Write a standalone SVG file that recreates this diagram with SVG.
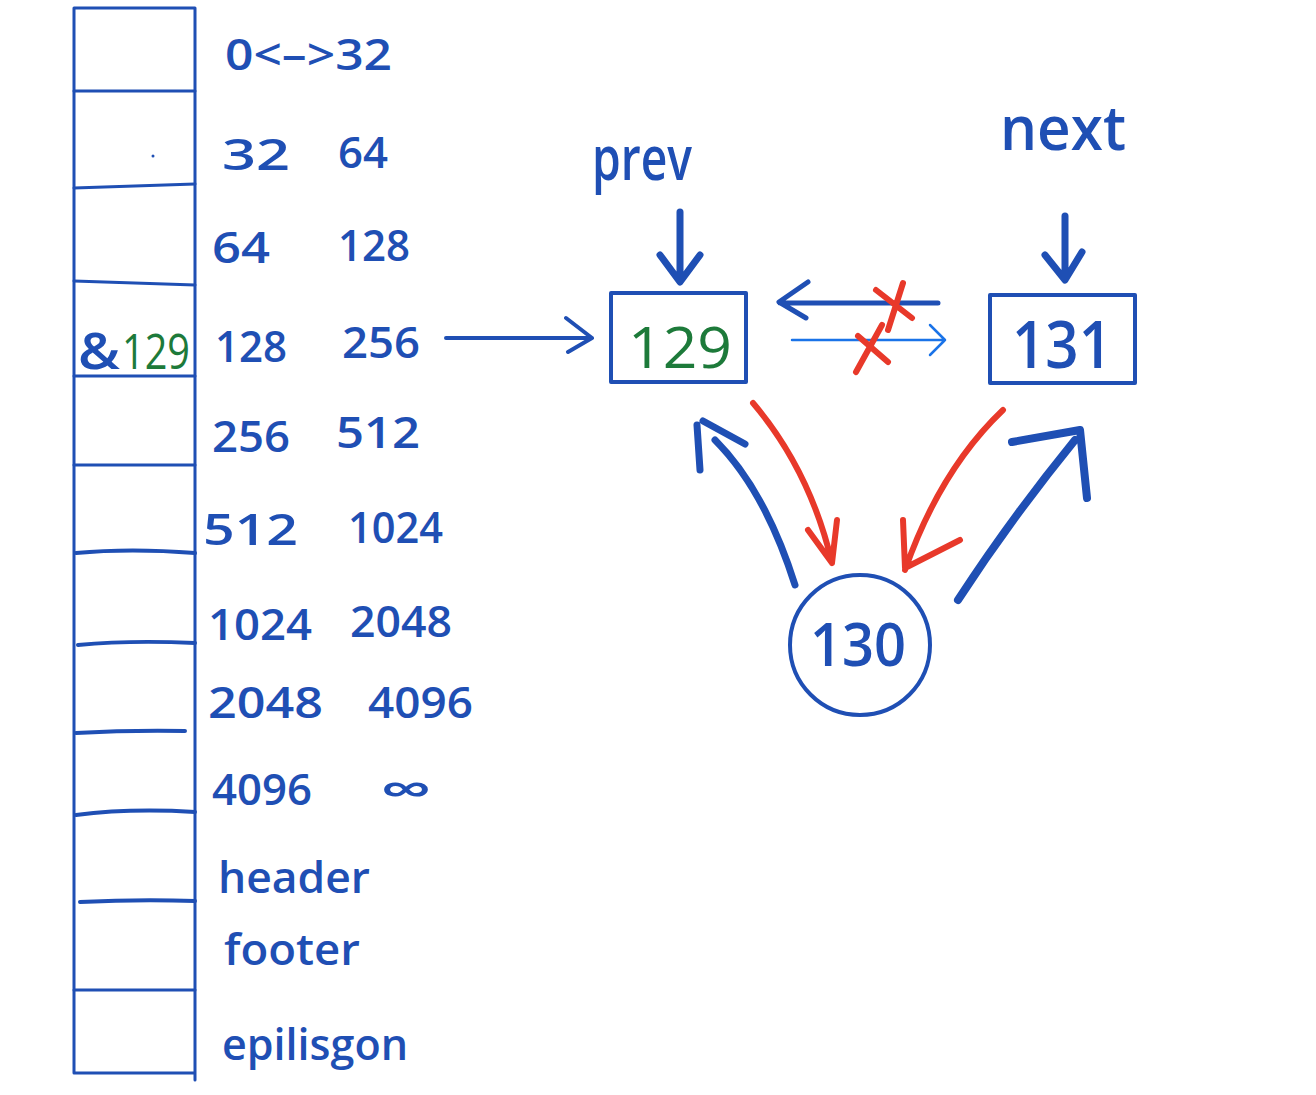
<svg xmlns="http://www.w3.org/2000/svg" width="1316" height="1095" viewBox="0 0 1316 1095">
<defs>
<style>
.ln{stroke:#1f4fb4;stroke-width:3;fill:none;stroke-linecap:round;stroke-linejoin:round}
.thk{stroke:#1f4fb4;stroke-width:7;fill:none;stroke-linecap:round;stroke-linejoin:round}
.red{stroke:#e8392a;stroke-width:6;fill:none;stroke-linecap:round;stroke-linejoin:round}
.lb{stroke:#1a73e8;stroke-width:2.5;fill:none;stroke-linecap:round;stroke-linejoin:round}
.t{font-family:"Open Sans","Liberation Sans",sans-serif;font-size:44px;font-weight:600;fill:#1f4fb4}
.g{fill:#1d7a3a}
.big{font-size:62px}
</style>
</defs>
<rect width="1316" height="1095" fill="#ffffff"/>
<g id="table">
<path class="ln" d="M74 8 H195 V1080 M74 8 V1073 H195"/>
<path class="ln" d="M74 91 H195 M74 188 L195 184 M74 281 L195 285 M74 376 H195 M74 465 H195"/>
<path class="ln" style="stroke-width:4" d="M76 553 Q130 548 195 553 M78 645 Q130 640 195 643 M76 733 Q130 730 185 731 M76 815 Q130 808 195 812 M80 902 Q140 899 195 901"/>
<path class="ln" d="M74 990 H195"/>
<circle cx="153" cy="156" r="1.5" fill="#1f4fb4"/>
</g>
<g id="labels">
<text class="t" x="225" y="70" textLength="167" lengthAdjust="spacingAndGlyphs">0&lt;–&gt;32</text>
<text class="t" x="222" y="170" textLength="68" lengthAdjust="spacingAndGlyphs">32</text>
<text class="t" x="338" y="168" textLength="50" lengthAdjust="spacingAndGlyphs">64</text>
<text class="t" x="212" y="263" textLength="58" lengthAdjust="spacingAndGlyphs">64</text>
<text class="t" x="338" y="261" textLength="72" lengthAdjust="spacingAndGlyphs">128</text>
<text class="t" x="78" y="369" textLength="42" lengthAdjust="spacingAndGlyphs" style="font-size:50px">&amp;</text>
<text class="t g" x="122" y="369" textLength="68" lengthAdjust="spacingAndGlyphs" style="font-size:50px;font-weight:400">129</text>
<text class="t" x="215" y="362" textLength="72" lengthAdjust="spacingAndGlyphs">128</text>
<text class="t" x="342" y="358" textLength="78" lengthAdjust="spacingAndGlyphs">256</text>
<text class="t" x="212" y="452" textLength="78" lengthAdjust="spacingAndGlyphs">256</text>
<text class="t" x="336" y="448" textLength="84" lengthAdjust="spacingAndGlyphs">512</text>
<text class="t" x="203" y="545" textLength="95" lengthAdjust="spacingAndGlyphs">512</text>
<text class="t" x="348" y="543" textLength="95" lengthAdjust="spacingAndGlyphs">1024</text>
<text class="t" x="208" y="640" textLength="104" lengthAdjust="spacingAndGlyphs">1024</text>
<text class="t" x="350" y="637" textLength="102" lengthAdjust="spacingAndGlyphs">2048</text>
<text class="t" x="208" y="718" textLength="115" lengthAdjust="spacingAndGlyphs">2048</text>
<text class="t" x="368" y="718" textLength="105" lengthAdjust="spacingAndGlyphs">4096</text>
<text class="t" x="212" y="805" textLength="100" lengthAdjust="spacingAndGlyphs">4096</text>
<text class="t" x="380" y="805" textLength="52" lengthAdjust="spacingAndGlyphs">∞</text>
<text class="t" x="218" y="893" textLength="152" lengthAdjust="spacingAndGlyphs">header</text>
<text class="t" x="224" y="965" textLength="136" lengthAdjust="spacingAndGlyphs">footer</text>
<text class="t" x="222" y="1060" textLength="186" lengthAdjust="spacingAndGlyphs">epilisgon</text>
</g>
<g id="prev-label"><text class="t big" x="592" y="180" textLength="100" lengthAdjust="spacingAndGlyphs">prev</text></g>
<g id="next-label"><text class="t big" x="1000" y="150" textLength="126" lengthAdjust="spacingAndGlyphs">next</text></g>
<g id="node129">
<rect x="611" y="293" width="135" height="89" class="ln" style="stroke-width:4"/>
<text class="t g" x="680" y="368" text-anchor="middle" textLength="104" lengthAdjust="spacingAndGlyphs" style="font-size:56px;font-weight:400">129</text>
</g>
<g id="node131">
<rect x="990" y="295" width="145" height="88" class="ln" style="stroke-width:4"/>
<text class="t" x="1062" y="368" text-anchor="middle" textLength="100" lengthAdjust="spacingAndGlyphs" style="font-size:66px">131</text>
</g>
<g id="node130">
<circle cx="860" cy="645" r="70" class="ln" style="stroke-width:4"/>
<text class="t" x="858" y="666" text-anchor="middle" textLength="96" lengthAdjust="spacingAndGlyphs" style="font-size:60px">130</text>
</g>
<g id="connectors">
<path class="thk" d="M680 212 V280 M660 255 L680 282 L700 255"/>
<path class="thk" d="M1065 216 V278 M1045 255 L1065 280 L1082 252"/>
<path class="ln" style="stroke-width:4" d="M446 338 H592 M566 318 L592 338 L568 352"/>
<path class="ln" style="stroke-width:5" d="M938 303 H780 M808 282 L779 302 L806 318"/>
<path class="lb" d="M792 340 H945 M930 325 L945 340 L930 355"/>
<path class="red" d="M876 290 L912 318 M903 283 L888 330 M856 372 L882 325 M858 336 L888 362"/>
<path class="thk" d="M795 585 Q765 490 715 440 M700 470 L697 425 M703 421 L745 444"/>
<path class="red" d="M753 403 Q810 470 832 563 M808 530 L832 563 L837 520"/>
<path class="red" d="M1003 410 Q940 470 905 570 M903 520 L905 568 L960 540"/>
<path class="thk" style="stroke-width:8" d="M958 600 Q1010 520 1075 440 M1012 442 L1080 430 L1087 498"/>
</g>
</svg>
